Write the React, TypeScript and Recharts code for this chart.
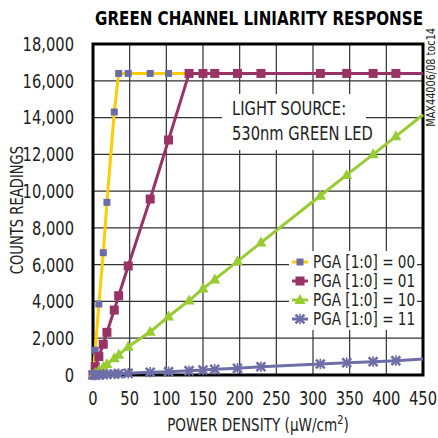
import { LineChart, Line, XAxis, YAxis, CartesianGrid, ReferenceArea } from 'recharts';

// power density (µW/cm²) at each measurement
const power = [0, 3, 8, 14, 19, 29, 35, 48, 78, 103, 131, 150, 166, 197, 229, 310, 346, 382, 413, 450];

// counts for each PGA gain setting
const pga00 = [0, 1350, 3860, 6650, 9390, 14300, 16400, 16400, 16400, 16400, 16400, 16400, 16400, 16400, 16400, 16400, 16400, 16400, 16400, 16400];
const pga01 = [0, 450, 1000, 1670, 2320, 3530, 4310, 5930, 9570, 12780, 16400, 16400, 16400, 16400, 16400, 16400, 16400, 16400, 16400, 16400];
const pga10 = [0, 95, 250, 440, 600, 910, 1100, 1540, 2350, 3180, 4050, 4700, 5200, 6180, 7200, 9750, 10880, 12000, 12980, 14150];
const pga11 = [0, 6, 15, 27, 37, 56, 68, 93, 150, 180, 234, 272, 310, 364, 450, 600, 670, 725, 780, 870];

const xTicks = [0, 50, 100, 150, 200, 250, 300, 350, 400, 450];
const yTicks = [0, 2000, 4000, 6000, 8000, 10000, 12000, 14000, 16000, 18000];

const data = power.map((p, i) => ({
  power: p,
  g00: pga00[i],
  g01: pga01[i],
  g10: pga10[i],
  g11: pga11[i],
}));

const FONT = '"Liberation Sans Narrow", "DejaVu Sans Condensed", sans-serif';

type Shape = 'square' | 'bigsquare' | 'triangle' | 'star';

function marker(shape: Shape, color: string, cx: number, cy: number, key?: string | number) {
  if (shape === 'square') return <rect key={key} x={cx - 3.5} y={cy - 3.5} width={7} height={7} fill={color} />;
  if (shape === 'bigsquare') return <rect key={key} x={cx - 4.5} y={cy - 4.5} width={9} height={9} fill={color} />;
  if (shape === 'triangle')
    return <path key={key} d={`M${cx},${cy - 6} L${cx + 5.5},${cy + 4} L${cx - 5.5},${cy + 4} Z`} fill={color} />;
  return (
    <g key={key} stroke={color} strokeWidth={2.6} strokeLinecap="square">
      <line x1={cx - 3.5} y1={cy - 3.5} x2={cx + 3.5} y2={cy + 3.5} />
      <line x1={cx - 3.5} y1={cy + 3.5} x2={cx + 3.5} y2={cy - 3.5} />
      <line x1={cx} y1={cy - 4.5} x2={cx} y2={cy + 4.5} strokeWidth={1.6} />
    </g>
  );
}

const series = [
  { key: 'g00', name: 'PGA [1:0] = 00', line: '#FFCC00', mark: '#6B6BA8', shape: 'square' as Shape },
  { key: 'g01', name: 'PGA [1:0] = 01', line: '#993366', mark: '#993366', shape: 'bigsquare' as Shape },
  { key: 'g10', name: 'PGA [1:0] = 10', line: '#99CC33', mark: '#99CC33', shape: 'triangle' as Shape },
  { key: 'g11', name: 'PGA [1:0] = 11', line: '#6E6EA8', mark: '#6E6EA8', shape: 'star' as Shape },
];

// condensed-looking tick text
function NarrowTick(props: any) {
  const { x, y, payload, textAnchor, fmt } = props;
  const label = fmt ? fmt(payload.value) : String(payload.value);
  return (
    <g transform={`translate(${x},${y}) scale(0.86,1)`}>
      <text x={0} y={0} dy={textAnchor === 'middle' ? '0.75em' : '0.36em'} textAnchor={textAnchor} fontSize={19} fontFamily={FONT} fill="#222">
        {label}
      </text>
    </g>
  );
}

const commas = (v: number) => v.toLocaleString('en-US');

export default function App() {
  return (
    <div style={{ position: 'absolute', left: 0, top: 0, width: 438, height: 438, background: '#fff', fontFamily: FONT }}>
      <LineChart width={438} height={438} data={data} margin={{ top: 44, right: 15, bottom: 33, left: 0 }}>
        <CartesianGrid stroke="#333" strokeWidth={1.2} />
        <XAxis
          dataKey="power"
          type="number"
          domain={[0, 450]}
          ticks={xTicks}
          height={30}
          tickLine={false}
          axisLine={false}
          tickSize={14}
          tick={<NarrowTick />}
        />
        <YAxis
          type="number"
          domain={[0, 18000]}
          ticks={yTicks}
          width={93}
          tickLine={false}
          axisLine={false}
          tickSize={17}
          tick={<NarrowTick fmt={commas} />}
        />
        {series.map((s) => (
          <Line
            key={s.key}
            dataKey={s.key}
            type="linear"
            stroke={s.line}
            strokeWidth={3}
            isAnimationActive={false}
            dot={(p: any) =>
              p.index === power.length - 1 ? <g key={p.index} /> : marker(s.shape, s.mark, p.cx, p.cy, p.index)
            }
            activeDot={false}
          />
        ))}
        <ReferenceArea x1={0} x2={450} y1={0} y2={18000} fill="none" stroke="#000" strokeWidth={3} ifOverflow="visible" />
      </LineChart>

      <svg width={438} height={438} style={{ position: 'absolute', left: 0, top: 0, pointerEvents: 'none' }}>
        <g transform="translate(259,25) scale(0.84,1)">
          <text x={0} y={0} textAnchor="middle" fontSize={20} fontWeight="bold" fontFamily={FONT} fill="#000">
            GREEN CHANNEL LINIARITY RESPONSE
          </text>
        </g>
        <g transform="translate(23,210) rotate(-90) scale(0.86,1)">
          <text x={0} y={0} textAnchor="middle" fontSize={17} fontFamily={FONT} fill="#222">
            COUNTS READINGS
          </text>
        </g>
        <g transform="translate(258,431) scale(0.84,1)">
          <text x={0} y={0} textAnchor="middle" fontSize={18} fontFamily={FONT} fill="#222">
            POWER DENSITY (μW/cm<tspan dy={-7} fontSize={13}>2</tspan>
            <tspan dy={7}>)</tspan>
          </text>
        </g>
        <g transform="translate(435,28) rotate(-90) scale(0.9,1)">
          <text x={0} y={0} textAnchor="end" fontSize={12} fontFamily={FONT} fill="#222">
            MAX44006/08 toc14
          </text>
        </g>

        <rect x={222} y={94} width={144} height={56} fill="#fff" />
        <g transform="translate(232,115) scale(0.86,1)">
          <text x={0} y={0} fontSize={19} fontFamily={FONT} fill="#222">LIGHT SOURCE:</text>
          <text x={0} y={25} fontSize={19} fontFamily={FONT} fill="#222">530nm GREEN LED</text>
        </g>

        <rect x={289} y={251} width={128} height={79} fill="#fff" />
        {series.map((s, i) => {
          const cy = 262 + i * 19;
          return (
            <g key={s.key}>
              <line x1={292} y1={cy} x2={308} y2={cy} stroke={s.line} strokeWidth={3} />
              {marker(s.shape, s.mark, 300, cy)}
              <g transform={`translate(313,${cy + 6}) scale(0.84,1)`}>
                <text x={0} y={0} fontSize={18} fontFamily={FONT} fill="#222">
                  {s.name}
                </text>
              </g>
            </g>
          );
        })}
      </svg>
    </div>
  );
}
